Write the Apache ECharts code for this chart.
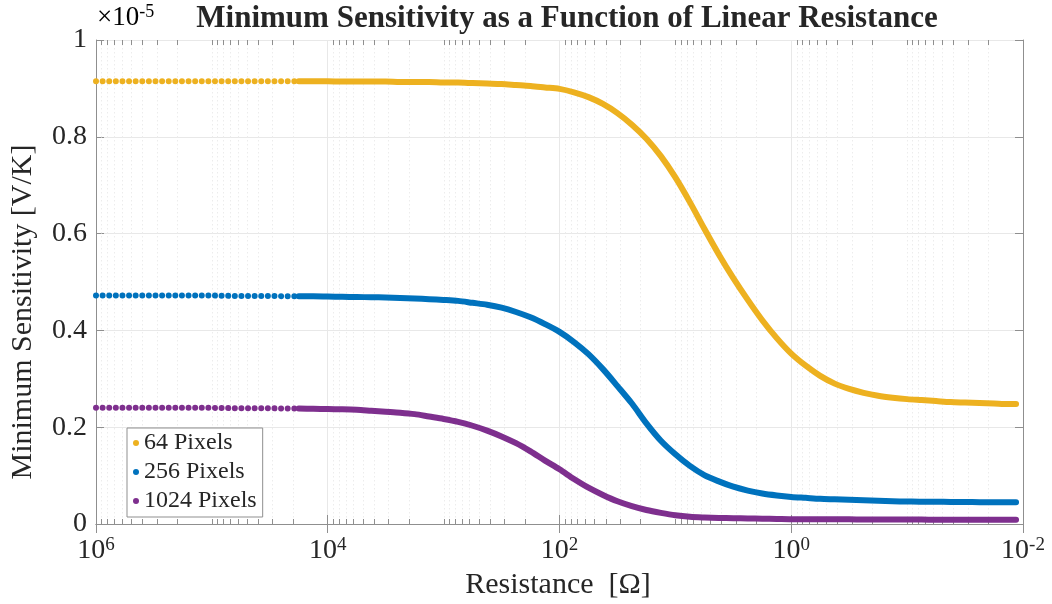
<!DOCTYPE html>
<html>
<head>
<meta charset="utf-8">
<script src="https://cdn.jsdelivr.net/npm/echarts@6/dist/echarts.min.js"></script>
<style>
html,body{margin:0;padding:0;background:#fff;}
#chart{width:1052px;height:604px;}
</style>
</head>
<body>
<div id="chart"></div>
<script>
// Resistance sample points, as log10(R / Ohm)
var logR = [6, 5.75, 5.5, 5.25, 5, 4.75, 4.5, 4.25,
  4.125, 4, 3.875, 3.75, 3.625, 3.5, 3.375, 3.25, 3.125, 3,
  2.875, 2.75, 2.625, 2.5, 2.375, 2.25, 2.125, 2,
  1.875, 1.75, 1.625, 1.5, 1.375, 1.25, 1.125, 1,
  0.875, 0.75, 0.625, 0.5, 0.375, 0.25, 0.125, 0,
  -0.125, -0.25, -0.375, -0.5, -0.625, -0.75, -0.875, -1,
  -1.125, -1.25, -1.375, -1.5, -1.625, -1.75, -1.875, -1.94];
// Minimum sensitivity [x1e-5 V/K]
var pix64 = [0.915, 0.915, 0.915, 0.915, 0.915, 0.915, 0.915, 0.915,
  0.915, 0.915, 0.914, 0.914, 0.914, 0.914, 0.913, 0.913, 0.913, 0.912,
  0.912, 0.911, 0.910, 0.909, 0.907, 0.905, 0.902, 0.899,
  0.892, 0.882, 0.868, 0.849, 0.825, 0.796, 0.760, 0.716,
  0.665, 0.610, 0.557, 0.508, 0.463, 0.421, 0.384, 0.352,
  0.327, 0.306, 0.290, 0.279, 0.271, 0.265, 0.261, 0.258,
  0.256, 0.254, 0.252, 0.251, 0.250, 0.249, 0.248, 0.248];
var pix256 = [0.472, 0.472, 0.472, 0.472, 0.472, 0.471, 0.471, 0.4705,
  0.4705, 0.470, 0.4695, 0.469, 0.4685, 0.468, 0.467, 0.466, 0.4645, 0.463,
  0.461, 0.457, 0.453, 0.447, 0.438, 0.427, 0.413, 0.397,
  0.376, 0.351, 0.320, 0.285, 0.249, 0.208, 0.172, 0.144,
  0.120, 0.101, 0.088, 0.077, 0.069, 0.063, 0.059, 0.056,
  0.054, 0.052, 0.051, 0.050, 0.049, 0.048, 0.047, 0.0465,
  0.046, 0.046, 0.0455, 0.0455, 0.045, 0.045, 0.045, 0.045];
var pix1024 = [0.240, 0.240, 0.240, 0.240, 0.240, 0.239, 0.239, 0.2385,
  0.238, 0.2375, 0.237, 0.236, 0.234, 0.232, 0.230, 0.227, 0.222, 0.217,
  0.211, 0.203, 0.193, 0.181, 0.167, 0.150, 0.131, 0.113,
  0.093, 0.075, 0.060, 0.047, 0.037, 0.029, 0.023, 0.018,
  0.015, 0.0135, 0.0125, 0.012, 0.0115, 0.011, 0.0105, 0.010,
  0.010, 0.010, 0.0098, 0.0096, 0.0095, 0.0094, 0.0093, 0.0092,
  0.0091, 0.009, 0.009, 0.009, 0.009, 0.009, 0.009, 0.009];
var seriesNames = ['64 Pixels', '256 Pixels', '1024 Pixels'];
var yTicks = [0, 0.2, 0.4, 0.6, 0.8, 1];

var colors = ['#EDB120', '#0072BD', '#7E2F8E'];
var textColor = '#262626';
var axisColor = '#8f8f8f';
var FONT = '"Liberation Serif", "Times New Roman", serif';
var dotLimitLog = 4.25; // above this log10(R) the samples show as separate dots

function pairs(vals, keep) {
  var out = [];
  for (var i = 0; i < logR.length; i++) {
    if (keep(logR[i])) out.push([Math.pow(10, logR[i]), vals[i]]);
  }
  return out;
}

// minor tick values for the log axis (2..9 x 10^k and the odd decades)
var minorVals = [];
for (var k = -2; k < 6; k++) {
  for (var m = 2; m <= 10; m++) {
    if (m === 10 && (k + 1) % 2 === 0) continue;
    minorVals.push([m * Math.pow(10, k), 0]);
  }
}

var chart = echarts.init(document.getElementById('chart'));
var allVals = [pix64, pix256, pix1024];
var series = [];
for (var s = 0; s < 3; s++) {
  series.push({
    name: seriesNames[s], type: 'line', showSymbol: false, symbol: 'circle',
    data: pairs(allVals[s], function (e) { return e >= dotLimitLog - 1e-9; }),
    lineStyle: { color: colors[s], width: 6, type: [0.01, 6.6], cap: 'round' },
    itemStyle: { color: colors[s] }, z: 3
  });
  series.push({
    name: seriesNames[s], type: 'line', showSymbol: false, symbol: 'circle', smooth: 0.3,
    data: pairs(allVals[s], function (e) { return e <= dotLimitLog + 1e-9; }),
    lineStyle: { color: colors[s], width: 6, cap: 'round', join: 'round' },
    itemStyle: { color: colors[s] }, z: 3
  });
}
series.push({
  type: 'custom', coordinateSystem: 'cartesian2d', silent: true, z: 1,
  data: minorVals, encode: { x: 0, y: 1 },
  renderItem: function (params, api) {
    var cs = params.coordSys;
    var x = Math.round(api.coord([api.value(0), 0])[0]) + 0.5;
    var top = cs.y, bottom = cs.y + cs.height;
    return {
      type: 'group', children: [
        { type: 'line', shape: { x1: x, y1: top, x2: x, y2: bottom },
          style: { stroke: '#ececec', lineWidth: 1, lineDash: [1.5, 2.5] } },
        { type: 'line', shape: { x1: x, y1: bottom, x2: x, y2: bottom - 5 },
          style: { stroke: axisColor, lineWidth: 1 } },
        { type: 'line', shape: { x1: x, y1: top, x2: x, y2: top + 5 },
          style: { stroke: axisColor, lineWidth: 1 } }
      ]
    };
  }
});

var xCommon = {
  type: 'log', logBase: 10, min: 0.01, max: 1e6, interval: 2, inverse: true,
  axisLine: { show: true, lineStyle: { color: axisColor, width: 1 } },
  axisTick: { show: true, inside: true, length: 9, lineStyle: { color: axisColor } }
};
var yCommon = {
  type: 'value', min: 0, max: 1, interval: 0.2,
  axisLine: { show: true, lineStyle: { color: axisColor, width: 1 } },
  axisTick: { show: true, inside: true, length: 8, lineStyle: { color: axisColor } }
};

var option = {
  animation: false,
  backgroundColor: '#ffffff',
  grid: { left: 96, right: 29, top: 40, bottom: 80 },
  xAxis: [
    Object.assign({}, xCommon, {
      position: 'bottom',
      splitLine: { show: true, lineStyle: { color: '#e8e8e8', width: 1 } },
      axisLabel: {
        margin: 12, color: textColor,
        formatter: function (v) {
          var e = Math.round(Math.log(v) / Math.LN10);
          return '{b|10}{s|' + e + '}';
        },
        rich: {
          b: { fontFamily: FONT, fontSize: 28, color: textColor, lineHeight: 30 },
          s: { fontFamily: FONT, fontSize: 19, color: textColor, lineHeight: 18, verticalAlign: 'top' }
        }
      }
    }),
    Object.assign({}, xCommon, {
      position: 'top', axisLabel: { show: false }, splitLine: { show: false }
    })
  ],
  yAxis: [
    Object.assign({}, yCommon, {
      position: 'left',
      splitLine: { show: true, lineStyle: { color: '#e8e8e8', width: 1 } },
      axisLabel: {
        margin: 9, color: textColor, fontFamily: FONT, fontSize: 28,
        formatter: function (v) {
          for (var i = 0; i < yTicks.length; i++) if (Math.abs(yTicks[i] - v) < 1e-9) return String(yTicks[i]);
          return '';
        }
      }
    }),
    Object.assign({}, yCommon, {
      position: 'right', axisLabel: { show: false }, splitLine: { show: false }
    })
  ],
  legend: {
    data: seriesNames, orient: 'vertical', left: 127, top: 428,
    icon: 'circle', itemWidth: 6, itemHeight: 6, itemGap: 5,
    padding: [3, 6, 4, 6],
    backgroundColor: '#ffffff', borderColor: axisColor, borderWidth: 1,
    textStyle: { fontFamily: FONT, fontSize: 24, color: textColor, padding: [0, 0, 0, 0] }
  },
  graphic: [
    { type: 'text', style: { x: 567, y: 3, text: 'Minimum Sensitivity as a Function of Linear Resistance',
      font: 'bold 31px ' + FONT, fill: textColor, align: 'center', verticalAlign: 'top' } },
    { type: 'text', left: 97, top: 3, style: { text: '{a|×10}{s|-5}',
      rich: { a: { fontFamily: FONT, fontSize: 27, color: textColor, lineHeight: 30 },
               s: { fontFamily: FONT, fontSize: 18, color: textColor, lineHeight: 18, verticalAlign: 'top' } } } },
    { type: 'text', style: { x: 558, y: 600, text: 'Resistance  [\u03A9]',
      font: '30px ' + FONT, fill: textColor, align: 'center', verticalAlign: 'bottom' } },
    { type: 'text', x: 8, y: 312, rotation: Math.PI / 2, style: { text: 'Minimum Sensitivity [V/K]',
      font: '30px ' + FONT, fill: textColor, align: 'center', verticalAlign: 'top' } }
  ],
  series: series
};
chart.setOption(option);
</script>
</body>
</html>
